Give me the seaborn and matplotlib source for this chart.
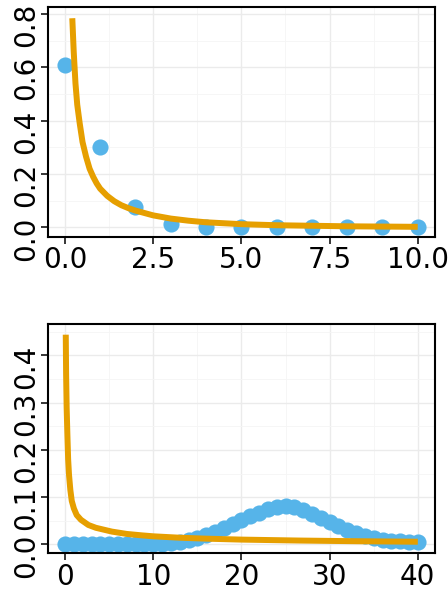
import numpy as np
import pandas as pd
import matplotlib
matplotlib.use("Agg")
import matplotlib.pyplot as plt
import matplotlib.transforms as mtransforms
import seaborn as sns
from matplotlib.ticker import MultipleLocator

# ---- data ----
top_x = list(range(0, 11))
top_y = [0.607, 0.303, 0.076, 0.013, 0.002, 0.0, 0.0, 0.0, 0.0, 0.0, 0.0]

top_curve_x = [0.21, 0.25, 0.30, 0.35, 0.42, 0.50, 0.60, 0.70, 0.80, 0.90, 1.00,
               1.20, 1.40, 1.60, 1.80, 2.00, 2.50, 3.00, 3.50, 4.00, 5.00, 6.00,
               7.00, 8.00, 9.00, 10.00]
top_curve_y = [0.784, 0.66, 0.54, 0.46, 0.39, 0.32, 0.265, 0.22, 0.19, 0.165, 0.145,
               0.118, 0.098, 0.083, 0.072, 0.063, 0.045, 0.033, 0.025, 0.019, 0.012,
               0.008, 0.006, 0.004, 0.003, 0.002]

bot_x = list(range(0, 41))
bot_y = [0.0, 0.0, 0.0, 0.0, 0.0, 0.0, 0.0, 0.0, 0.0, 0.0,
         0.0, 0.001, 0.003, 0.005, 0.009, 0.014, 0.020, 0.027, 0.035, 0.043,
         0.051, 0.059, 0.067, 0.074, 0.080, 0.081, 0.078, 0.072, 0.065, 0.056,
         0.048, 0.039, 0.031, 0.024, 0.018, 0.013, 0.010, 0.008, 0.006, 0.005,
         0.004]

bot_curve_x = [0.08, 0.12, 0.18, 0.26, 0.35, 0.45, 0.60, 0.76, 1.0, 1.32, 1.8,
               2.64, 3.5, 5.3, 7.0, 8.7, 10, 13, 16, 20, 26.6, 33, 40]
bot_curve_y = [0.444, 0.36, 0.29, 0.235, 0.18, 0.147, 0.115, 0.092, 0.076, 0.062,
               0.052, 0.041, 0.035, 0.027, 0.022, 0.019, 0.017, 0.014, 0.012,
               0.010, 0.008, 0.0066, 0.0055]

top_xticks = [0.0, 2.5, 5.0, 7.5, 10.0]
top_xticklabels = ["0.0", "2.5", "5.0", "7.5", "10.0"]
top_yticks = [0.0, 0.2, 0.4, 0.6, 0.8]
top_yticklabels = ["0.0", "0.2", "0.4", "0.6", "0.8"]
bot_xticks = [0, 10, 20, 30, 40]
bot_xticklabels = ["0", "10", "20", "30", "40"]
bot_yticks = [0.0, 0.1, 0.2, 0.3, 0.4]
bot_yticklabels = ["0.0", "0.1", "0.2", "0.3", "0.4"]

POINT_COLOR = "#56B4E9"
LINE_COLOR = "#E69F00"

sns.set_theme(style="white")
plt.rcParams["font.family"] = ["DejaVu Sans"]

fig = plt.figure(figsize=(4.48, 5.90), dpi=100)
W, H = 448.0, 590.0

def make_ax(left, top, right, bottom):
    return fig.add_axes([left / W, 1 - bottom / H, (right - left) / W, (bottom - top) / H])

ax1 = make_ax(48.3, 7.3, 435.0, 236.7)
ax2 = make_ax(48.3, 324.3, 435.0, 553.3)

df_top = pd.DataFrame({"x": top_x, "y": top_y})
df_top_c = pd.DataFrame({"x": top_curve_x, "y": top_curve_y})
df_bot = pd.DataFrame({"x": bot_x, "y": bot_y})
df_bot_c = pd.DataFrame({"x": bot_curve_x, "y": bot_curve_y})

def style(ax, xlim, ylim, xt, xtl, yt, ytl, xminor, yminor, yshift_px):
    ax.set_xlim(*xlim)
    ax.set_ylim(*ylim)
    ax.set_xticks(xt)
    ax.set_xticklabels(xtl)
    ax.set_yticks(yt)
    ax.set_yticklabels(ytl, rotation=90, va="center")
    ax.xaxis.set_minor_locator(MultipleLocator(xminor))
    ax.yaxis.set_minor_locator(MultipleLocator(yminor))
    ax.grid(True, which="major", color="#EBEBEB", linewidth=1.0)
    ax.grid(True, which="minor", color="#F5F5F5", linewidth=0.6)
    ax.set_axisbelow(True)
    ax.set_facecolor("white")
    for s in ax.spines.values():
        s.set_color("black")
        s.set_linewidth(1.5)
        s.set_visible(True)
    ax.tick_params(axis="both", which="major", direction="out", length=5, width=1.1,
                   color="black", labelsize=20, labelcolor="black",
                   bottom=True, left=True)
    ax.tick_params(axis="x", which="major", pad=2)
    ax.tick_params(axis="y", which="major", pad=1)
    ax.tick_params(axis="both", which="minor", length=0)
    ax.set_xlabel("")
    ax.set_ylabel("")
    off = mtransforms.ScaledTranslation(0, -yshift_px / 100.0, fig.dpi_scale_trans)
    for lab in ax.get_yticklabels():
        lab.set_transform(lab.get_transform() + off)

sns.scatterplot(data=df_top, x="x", y="y", ax=ax1, color=POINT_COLOR, s=135,
                linewidth=0, zorder=2)
sns.lineplot(data=df_top_c, x="x", y="y", ax=ax1, color=LINE_COLOR, linewidth=4.3,
             sort=False, estimator=None, zorder=3, solid_capstyle="butt")
style(ax1, (-0.47, 10.49), (-0.035, 0.825), top_xticks, top_xticklabels,
      top_yticks, top_yticklabels, 1.25, 0.1, 11)

sns.scatterplot(data=df_bot, x="x", y="y", ax=ax2, color=POINT_COLOR, s=135,
                linewidth=0, zorder=2)
sns.lineplot(data=df_bot_c, x="x", y="y", ax=ax2, color=LINE_COLOR, linewidth=4.3,
             sort=False, estimator=None, zorder=3, solid_capstyle="butt")
style(ax2, (-1.9, 41.95), (-0.019, 0.466), bot_xticks, bot_xticklabels,
      bot_yticks, bot_yticklabels, 5, 0.05, 11)

fig.savefig("out.png", dpi=100)
